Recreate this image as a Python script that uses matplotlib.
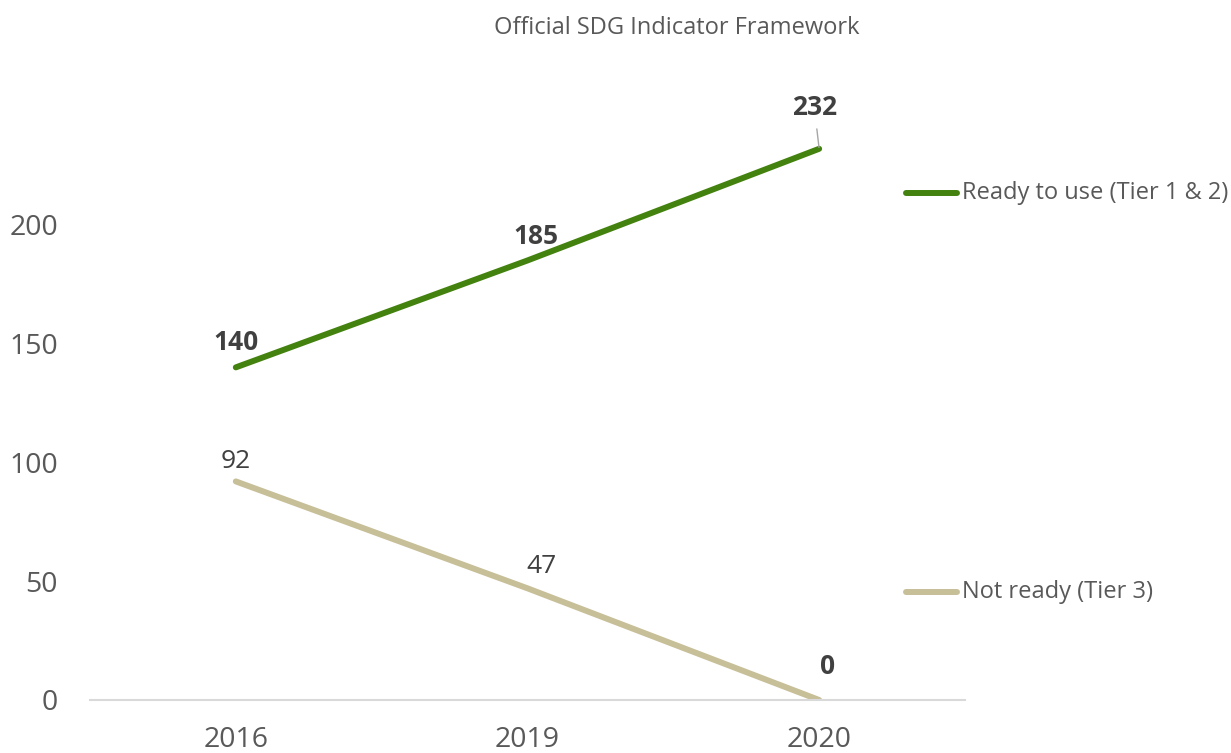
import matplotlib
matplotlib.use('Agg')
import matplotlib.pyplot as plt
from matplotlib.lines import Line2D

plt.rcParams['font.family'] = ['Open Sans', 'DejaVu Sans']

years = ['2016', '2019', '2020']
ready = [140, 185, 232]
not_ready = [92, 47, 0]
ready_name = 'Ready to use (Tier 1 & 2)'
not_ready_name = 'Not ready (Tier 3)'

green = '#43820f'
tan = '#c7bf98'
grey = '#595959'

fig = plt.figure(figsize=(12.31, 7.53), dpi=100)
ax = fig.add_axes([0.0731, 0.0704, 0.7108, 0.7888])

x = list(range(len(years)))
ax.plot(x, ready, color=green, lw=4.3, solid_capstyle='round')
ax.plot(x, not_ready, color=tan, lw=4.3, solid_capstyle='round')

ax.set_xlim(-0.5, 2.5)
ax.set_ylim(0, 250)
ax.set_xticks(x)
ax.set_xticklabels(years)
ax.set_yticks([0, 50, 100, 150, 200])
ax.tick_params(axis='both', length=0, labelsize=20.5, colors=grey)
ax.tick_params(axis='y', pad=23)
ax.tick_params(axis='x', pad=19)
for s in ['top', 'right', 'left']:
    ax.spines[s].set_visible(False)
ax.spines['bottom'].set_color('#d9d9d9')
ax.spines['bottom'].set_linewidth(1.5)

# data labels (offsets in points)
lab_ready = [(0, 18), (6, 17), (-3.5, 30)]
lab_not = [(0, 14.5), (10, 16), (6, 24)]
for i, v in enumerate(ready):
    kw = {}
    if i == 2:
        kw['arrowprops'] = dict(arrowstyle='-', color='#a6a6a6', lw=1,
                                shrinkA=4, shrinkB=1)
    ax.annotate(str(v), (x[i], v), xytext=lab_ready[i], textcoords='offset points',
                ha='center', va='center', fontsize=19, fontweight='bold',
                color='#404040', **kw)
for i, v in enumerate(not_ready):
    ax.annotate(str(v), (x[i], v), xytext=lab_not[i], textcoords='offset points',
                ha='center', va='center', fontsize=19,
                fontweight='bold' if i == 2 else 'normal', color='#404040')

# legend entries placed beside the chart
W, H = 1231, 753
for name, col, ypx in [(ready_name, green, 193), (not_ready_name, tan, 592)]:
    yf = 1 - ypx / H
    fig.add_artist(Line2D([906 / W, 957 / W], [yf, yf], color=col, lw=4.3,
                          solid_capstyle='round'))
    fig.text(962 / W, yf, name, fontsize=17, color=grey, va='center', ha='left')

fig.text(677 / W, 1 - 28 / H, 'Official SDG Indicator Framework', fontsize=17,
         color=grey, ha='center', va='center')

fig.savefig('out.png', dpi=100)
